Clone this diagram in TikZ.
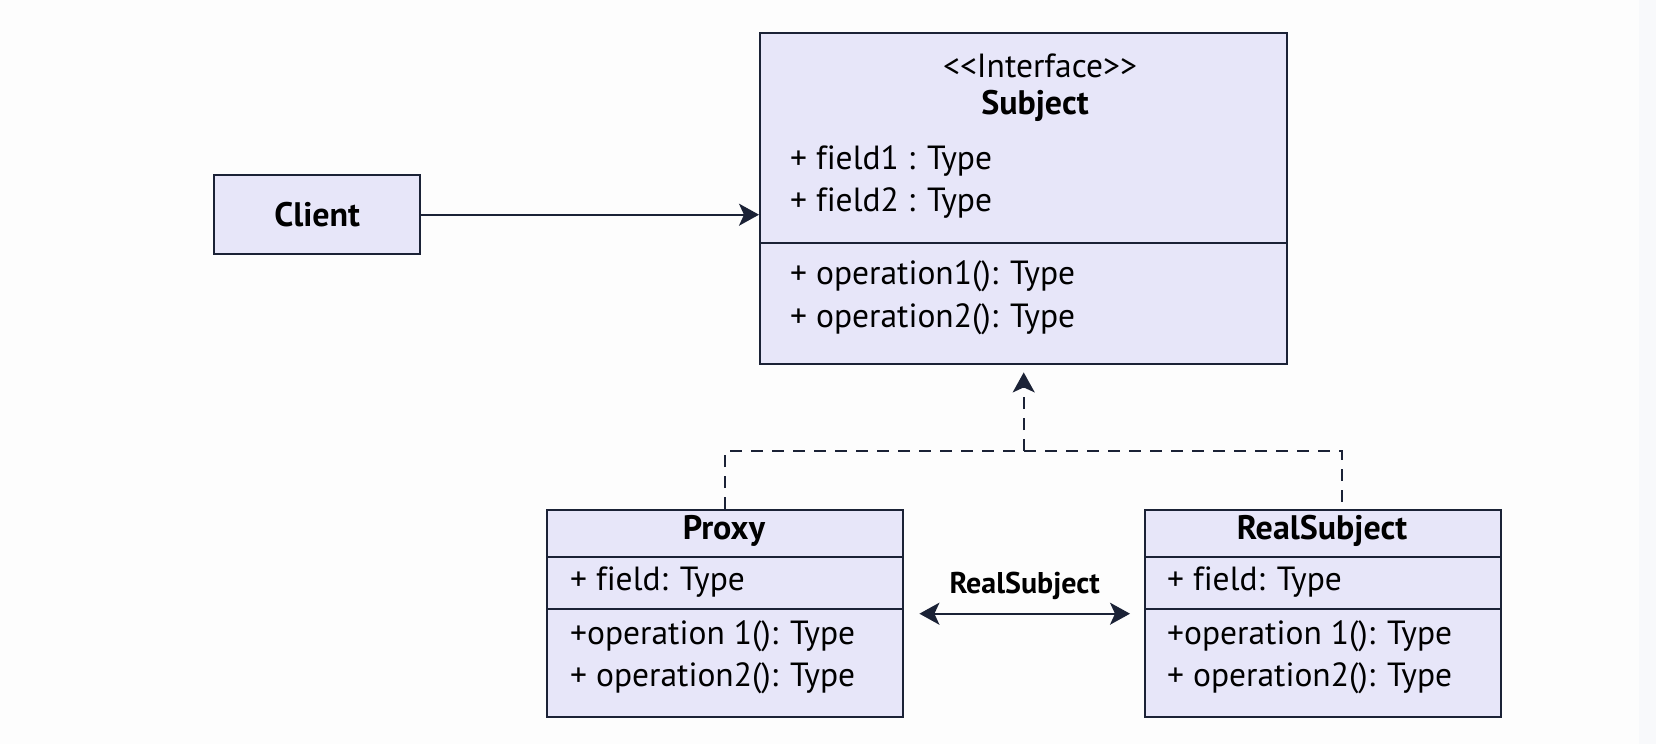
\documentclass[tikz,border=0pt]{standalone}
\usepackage{fontspec}
\setmainfont{PT Sans}[Ligatures=NoCommon]
\usetikzlibrary{arrows.meta}
\definecolor{boxfill}{HTML}{E7E6F9}
\definecolor{ink}{HTML}{1B2236}
\definecolor{pagebg}{HTML}{FDFDFD}
\definecolor{stripbg}{HTML}{F8F9FB}
\tikzset{
  classbox/.style={draw=ink, fill=boxfill, line width=2.4pt, anchor=north west, inner sep=0pt},
  divider/.style={draw=ink, line width=2.4pt},
  member/.style={anchor=west, inner sep=0pt, font=\fontsize{33.5}{36}\selectfont, text=black},
  title/.style={inner sep=0pt, font=\fontsize{34}{36}\selectfont\bfseries, text=black},
  conn/.style={draw=ink, line width=2pt},
  head/.tip={Stealth[length=20pt,width=22pt,inset=5pt]},
  tip/.style={-head},
  dashedconn/.style={conn, dash pattern=on 12pt off 9pt},
}
\begin{document}
\begin{tikzpicture}[x=1pt,y=-1pt]
  % page and right-hand strip
  \fill[pagebg] (0,0) rectangle (1656,744);
  \fill[stripbg] (1639,0) rectangle (1656,744);
  \useasboundingbox (0,0) rectangle (1656,744);

  % Client
  \node[classbox, minimum width=206pt, minimum height=79pt] (client) at (213,174) {};
  \node[title] (clientname) at (client.center) {Client};

  % Subject interface
  \node[classbox, minimum width=527pt, minimum height=331pt] (subject) at (759,32) {};
  \draw[divider] ([yshift=-211pt]subject.north west) -- ([yshift=-211pt]subject.north east);
  \node[inner sep=0pt, font=\fontsize{33.5}{36}\selectfont] (stereo) at (1040,66) {<{}<Interface>{}>};
  \node[title] (subjectname) at (1035,106) {Subject};
  \node[member] (sf1) at (790,161) {+ field1 : Type};
  \node[member] (sf2) at (790,203) {+ field2 : Type};
  \node[member] (so1) at (790,276) {+ operation1(): Type};
  \node[member] (so2) at (790,319) {+ operation2(): Type};

  % Proxy
  \node[classbox, minimum width=356pt, minimum height=207pt] (proxy) at (546,509) {};
  \draw[divider] ([yshift=-48pt]proxy.north west) -- ([yshift=-48pt]proxy.north east);
  \draw[divider] ([yshift=-100pt]proxy.north west) -- ([yshift=-100pt]proxy.north east);
  \node[title] (proxyname) at (724,531) {Proxy};
  \node[member] (pf) at (570,582) {+ field: Type};
  \node[member] (po1) at (570,636) {+operation 1(): Type};
  \node[member] (po2) at (570,678) {+ operation2(): Type};

  % RealSubject
  \node[classbox, minimum width=356pt, minimum height=207pt] (real) at (1144,509) {};
  \draw[divider] ([yshift=-48pt]real.north west) -- ([yshift=-48pt]real.north east);
  \draw[divider] ([yshift=-100pt]real.north west) -- ([yshift=-100pt]real.north east);
  \node[title] (realname) at (1322,531) {RealSubject};
  \node[member] (rf) at (1167,582) {+ field: Type};
  \node[member] (ro1) at (1167,636) {+operation 1(): Type};
  \node[member] (ro2) at (1167,678) {+ operation2(): Type};

  % Client uses Subject
  \draw[conn, tip] (client.east) -- (client.east -| subject.west);

  % realization lines to the interface
  \coordinate (junction) at (subject.south |- 0,451);
  \coordinate (realtop) at ([xshift=19pt]real.north);
  \draw[dashedconn] (proxy.north) |- (junction) -| (realtop);
  \draw[dashedconn, tip, shorten >=7pt] (junction) -- (subject.south);

  % association between Proxy and RealSubject
  \draw[conn, head-head]
    ([xshift=15pt]proxy.east) -- node[above=13pt, inner sep=0pt, font=\fontsize{30}{32}\selectfont\bfseries] (assoc) {RealSubject} ([xshift=-14pt]real.west);
\end{tikzpicture}
\end{document}
